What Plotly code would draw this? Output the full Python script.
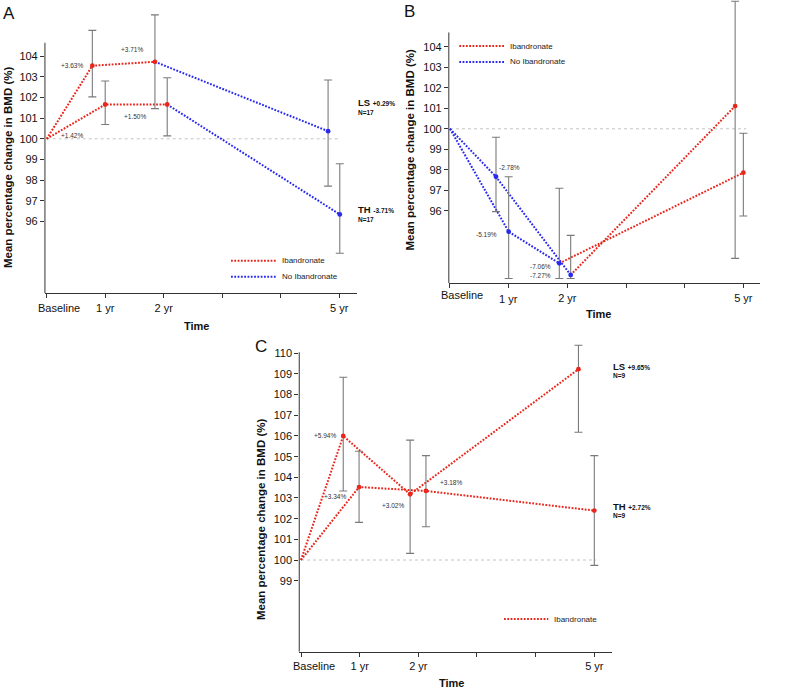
import plotly.graph_objects as go

W, H = 796, 691
RED = "#e8261c"
BLUE = "#2a2aee"
ERR = "#7a7a7a"
AX = "#333333"
FONT = "Liberation Sans, Arial, sans-serif"

TICK_VALS = [0, 1, 2, 3, 4, 5]
TICK_TEXT = ["", "1 yr", "2 yr", "", "", "5 yr"]
BASELINE_LABEL = "Baseline"

# ---------------- Panel A ----------------
A_LS_x = [0, 0.78, 1.85, 4.81]
A_LS_y = [100, 103.54, 103.73, 100.37]
A_LS_hi = [105.25, 106.0, 102.85]
A_LS_lo = [102.03, 101.46, 97.71]
A_LS_seg = [RED, RED, BLUE]
A_LS_pt = [RED, RED, BLUE]

A_TH_x = [0, 1.0, 2.06, 5.01]
A_TH_y = [100, 101.66, 101.66, 96.34]
A_TH_hi = [102.80, 102.96, 98.79]
A_TH_lo = [100.69, 100.14, 94.46]
A_TH_seg = [RED, RED, BLUE]
A_TH_pt = [RED, RED, BLUE]

A_lbl_text = ["+3.63%", "+3.71%", "+1.50%", "+1.42%"]
A_lbl_x = [0.44, 1.46, 1.51, 0.43]
A_lbl_y = [103.54, 104.31, 101.09, 100.17]

A_end = [("LS", "+0.29%", "N=17", 5.30, 101.76, 101.26),
         ("TH", "-3.71%", "N=17", 5.30, 96.60, 96.10)]

# ---------------- Panel B ----------------
B_TH_x = [0, 0.784, 2.057, 4.86]
B_TH_y = [100, 97.66, 92.87, 101.11]
B_TH_hi = [99.59, 94.80, 106.22]
B_TH_lo = [95.96, 92.70, 93.68]
B_TH_seg = [BLUE, BLUE, RED]
B_TH_pt = [BLUE, BLUE, RED]

B_LS_x = [0, 1.0, 1.863, 5.0]
B_LS_y = [100, 94.98, 93.44, 97.86]
B_LS_hi = [97.66, 97.10, 99.78]
B_LS_lo = [92.70, 92.70, 95.75]
B_LS_seg = [BLUE, BLUE, RED]
B_LS_pt = [BLUE, BLUE, RED]

B_lbl_text = ["-2.78%", "-5.19%", "-7.06%", "-7.27%"]
B_lbl_x = [1.02, 0.63, 1.55, 1.55]
B_lbl_y = [98.10, 94.82, 93.27, 92.82]

B_end = [("TH", "+1.18%", "N=8", 5.32, 101.25, 100.76),
         ("LS", "-2.88%", "N=8", 5.32, 98.25, 97.76)]

# ---------------- Panel C ----------------
C_LS_x = [0, 0.72, 1.86, 4.73]
C_LS_y = [100, 106.0, 103.18, 109.23]
C_LS_hi = [108.84, 105.80, 110.39]
C_LS_lo = [103.34, 100.32, 106.18]
C_LS_seg = [RED, RED, RED]
C_LS_pt = [RED, RED, RED]

C_TH_x = [0, 0.99, 2.13, 5.0]
C_TH_y = [100, 103.53, 103.34, 102.39]
C_TH_hi = [105.26, 105.05, 105.05]
C_TH_lo = [101.82, 101.61, 99.74]
C_TH_seg = [RED, RED, RED]
C_TH_pt = [RED, RED, RED]

C_lbl_text = ["+5.94%", "+3.34%", "+3.02%", "+3.18%"]
C_lbl_x = [0.41, 0.58, 1.57, 2.55]
C_lbl_y = [106.0, 103.06, 102.66, 103.76]

C_end = [("LS", "+9.65%", "N=9", 5.30, 109.37, 108.91),
         ("TH", "+2.72%", "N=9", 5.30, 102.60, 102.14)]

BASELINE = 100

# ---------------- layout geometry (pixels) ----------------
PANELS = [
    dict(name="A", xa="x", ya="y", base_px=46.7, sx=58.5, xr=(-0.03, 5.3),
         y100_px=138.8, sy=20.65, bottom_px=293.3, top_px=10, axis_top=104.65,
         yticks=list(range(96, 105)), ref_end=5.02,
         series=[(A_LS_x, A_LS_y, A_LS_hi, A_LS_lo, A_LS_seg, A_LS_pt),
                 (A_TH_x, A_TH_y, A_TH_hi, A_TH_lo, A_TH_seg, A_TH_pt)],
         labels=(A_lbl_text, A_lbl_x, A_lbl_y), ends=A_end,
         letter=(9.2, 13.3), ytitle=(8, 168, 11.5), xtitle=(196.7, 326),
         base_lbl=(59, 307.7), extra_ticks=[],
         legend=[(RED, "Ibandronate", 231, 276, 260.7), (BLUE, "No Ibandronate", 231, 276, 276.7)]),
    dict(name="B", xa="x2", ya="y2", base_px=450, sx=58.67, xr=(-0.02, 5.28),
         y100_px=128.8, sy=20.5, bottom_px=283.3, top_px=0, axis_top=104.7,
         yticks=list(range(96, 105)), ref_end=5.05,
         series=[(B_TH_x, B_TH_y, B_TH_hi, B_TH_lo, B_TH_seg, B_TH_pt),
                 (B_LS_x, B_LS_y, B_LS_hi, B_LS_lo, B_LS_seg, B_LS_pt)],
         labels=(B_lbl_text, B_lbl_x, B_lbl_y), ends=B_end,
         letter=(409, 12), ytitle=(409.5, 150, 11.5), xtitle=(598.7, 314),
         base_lbl=(462, 295), extra_ticks=[(1, 299.5)],
         legend=[(RED, "Ibandronate", 459.3, 504, 46), (BLUE, "No Ibandronate", 459.3, 504, 62)]),
    dict(name="C", xa="x3", ya="y3", base_px=301, sx=58.66, xr=(-0.03, 5.3),
         y100_px=560, sy=20.67, bottom_px=651.7, top_px=338, axis_top=110.05,
         yticks=list(range(99, 111)), ref_end=5.03,
         series=[(C_LS_x, C_LS_y, C_LS_hi, C_LS_lo, C_LS_seg, C_LS_pt),
                 (C_TH_x, C_TH_y, C_TH_hi, C_TH_lo, C_TH_seg, C_TH_pt)],
         labels=(C_lbl_text, C_lbl_x, C_lbl_y), ends=C_end,
         letter=(260.5, 346.7), ytitle=(261, 520, 11.5), xtitle=(451.7, 682.5),
         base_lbl=(314, 665.7), extra_ticks=[],
         legend=[(RED, "Ibandronate", 504, 548.3, 619)]),
]

DASH = "1.8px,1.5px"
LW = 2.0

fig = go.Figure()
shapes = []
annotations = []
layout_axes = {}


def px_ann(text, px, py, size, bold=False, angle=0, xanchor="center", color="#111"):
    t = f"<b>{text}</b>" if bold else text
    return dict(text=t, x=px / W, y=1 - py / H, xref="paper", yref="paper",
                xanchor=xanchor, yanchor="middle", showarrow=False, textangle=angle,
                borderpad=0, font=dict(family=FONT, size=size, color=color))


for p in PANELS:
    xa, ya = p["xa"], p["ya"]
    xkey = "xaxis" + xa[1:]
    ykey = "yaxis" + ya[1:]
    xr0, xr1 = p["xr"]
    xd = [(p["base_px"] + xr0 * p["sx"]) / W, (p["base_px"] + xr1 * p["sx"]) / W]
    yr0 = BASELINE - (p["bottom_px"] - p["y100_px"]) / p["sy"]
    yr1 = BASELINE + (p["y100_px"] - p["top_px"]) / p["sy"]
    yd = [1 - p["bottom_px"] / H, 1 - p["top_px"] / H]

    ticktext = list(TICK_TEXT)
    for tv, _ in p["extra_ticks"]:
        ticktext[TICK_VALS.index(tv)] = ""

    layout_axes[xkey] = dict(domain=xd, range=[xr0, xr1], anchor=ya,
                             tickvals=TICK_VALS, ticktext=ticktext,
                             showline=True, linecolor=AX, linewidth=1,
                             ticks="outside", ticklen=4, tickcolor=AX, tickwidth=1,
                             showgrid=False, zeroline=False,
                             tickfont=dict(family=FONT, size=11, color="#111"))
    layout_axes[ykey] = dict(domain=yd, range=[yr0, yr1], anchor=xa,
                             tickvals=p["yticks"], ticktext=[str(v) for v in p["yticks"]],
                             showline=False, ticks="outside", ticklen=4, tickcolor=AX,
                             tickwidth=1, showgrid=False, zeroline=False,
                             tickfont=dict(family=FONT, size=11, color="#111"))

    # tick labels placed individually (Baseline offset, lowered labels)
    bx, by = p["base_lbl"]
    annotations.append(px_ann(BASELINE_LABEL, bx, by, 11))
    for tv, ty in p["extra_ticks"]:
        annotations.append(px_ann(TICK_TEXT[TICK_VALS.index(tv)], p["base_px"] + tv * p["sx"], ty, 11))

    # y axis line
    shapes.append(dict(type="line", xref=f"{xa} domain", yref=ya, x0=0, x1=0,
                       y0=yr0, y1=p["axis_top"], line=dict(color=AX, width=1)))
    # baseline reference line
    shapes.append(dict(type="line", xref=xa, yref=ya, x0=0, x1=p["ref_end"],
                       y0=BASELINE, y1=BASELINE, line=dict(color="#c4c4c4", width=1, dash="dot"),
                       layer="below"))

    # lines
    for xs, ys, hi, lo, seg, pt in p["series"]:
        i = 0
        while i < len(seg):
            j = i
            while j + 1 < len(seg) and seg[j + 1] == seg[i]:
                j += 1
            fig.add_trace(go.Scatter(x=xs[i:j + 2], y=ys[i:j + 2], mode="lines",
                                     line=dict(color=seg[i], width=LW, dash=DASH),
                                     xaxis=xa, yaxis=ya, hoverinfo="skip", showlegend=False))
            i = j + 1
    # points with error bars
    for xs, ys, hi, lo, seg, pt in p["series"]:
        yv = ys[1:]
        fig.add_trace(go.Scatter(
            x=xs[1:], y=yv, mode="markers",
            marker=dict(color=pt, size=4.8),
            error_y=dict(type="data", symmetric=False,
                         array=[h - v for h, v in zip(hi, yv)],
                         arrayminus=[v - l for l, v in zip(lo, yv)],
                         color=ERR, thickness=1.1, width=4),
            xaxis=xa, yaxis=ya, showlegend=False, cliponaxis=False))

    # percentage labels
    texts, lx, ly = p["labels"]
    for t, x, y in zip(texts, lx, ly):
        annotations.append(dict(text=t, x=x, y=y, xref=xa, yref=ya, showarrow=False,
                                xanchor="center", yanchor="middle", borderpad=0,
                                font=dict(family=FONT, size=6.5, color="#333")))
    # end labels
    for site, pct, n, x, y1, y2 in p["ends"]:
        annotations.append(dict(text=f"<b>{site}</b> <span style='font-size:6.5px'><b>{pct}</b></span>",
                                x=x, y=y1, xref=xa, yref=ya, showarrow=False,
                                xanchor="left", yanchor="middle", borderpad=0,
                                font=dict(family=FONT, size=9.5, color="#111")))
        annotations.append(dict(text=f"<b>{n}</b>", x=x, y=y2, xref=xa, yref=ya,
                                showarrow=False, xanchor="left", yanchor="middle", borderpad=0,
                                font=dict(family=FONT, size=6.5, color="#111")))

    # panel letter, titles
    lx_, ly_ = p["letter"]
    annotations.append(px_ann(p["name"], lx_, ly_, 17))
    tx, ty, ts = p["ytitle"]
    annotations.append(px_ann("Mean percentage change in BMD (%)", tx, ty, ts, bold=True, angle=-90))
    xx, xy = p["xtitle"]
    annotations.append(px_ann("Time", xx, xy, 11, bold=True))

    # legend (custom)
    for col, txt, x0, x1, yy in p["legend"]:
        shapes.append(dict(type="line", xref="paper", yref="paper",
                           x0=x0 / W, x1=x1 / W, y0=1 - yy / H, y1=1 - yy / H,
                           line=dict(color=col, width=LW, dash=DASH)))
        annotations.append(px_ann(txt, x1 + 5, yy, 8, xanchor="left", color="#222"))

fig.update_layout(
    width=W, height=H, autosize=False,
    margin=dict(l=0, r=0, t=0, b=0),
    paper_bgcolor="white", plot_bgcolor="white",
    showlegend=False,
    font=dict(family=FONT),
    shapes=shapes, annotations=annotations,
    **layout_axes,
)

fig.write_html("out.html", config={"displayModeBar": False},
               post_script="document.body.style.margin='0px';")
